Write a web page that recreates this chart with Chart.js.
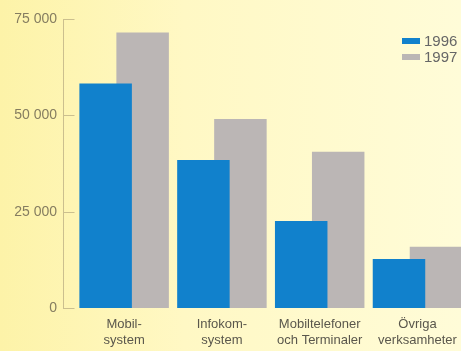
<!DOCTYPE html>
<html>
<head>
<meta charset="utf-8">
<script src="https://cdn.jsdelivr.net/npm/chart.js@4.4.0/dist/chart.umd.min.js"></script>
<style>
html, body { margin: 0; padding: 0; }
body {
    width: 461px; height: 351px; overflow: hidden;
    background: linear-gradient(to right, #fdf3a8 0%, #fff8c4 40%, #fffcd8 100%);
}
#wrap { position: relative; width: 461px; height: 351px; }
</style>
</head>
<body>
<div id="wrap"><canvas id="salesChart"></canvas></div>
<script>
// Data
var categories = [['Mobil-', 'system'], ['Infokom-', 'system'], ['Mobiltelefoner', 'och Terminaler'], ['Övriga', 'verksamheter']];
var years = ['1996', '1997'];
var values1996 = [58300, 38500, 22700, 12800];
var values1997 = [71500, 49100, 40600, 16000];
var yTicks = [0, 25000, 50000, 75000];

var axisColor = '#cbbf8e';
var font = "'Liberation Sans', Arial, sans-serif";

// legend drawn inside the chart area, top right
var cornerLegend = {
    id: 'cornerLegend',
    afterDraw: function (chart) {
        var ctx = chart.ctx;
        ctx.save();
        ctx.font = '15px ' + font;
        ctx.textBaseline = 'middle';
        chart.data.datasets.forEach(function (ds, i) {
            var y = 41 + i * 16;
            ctx.fillStyle = ds.backgroundColor;
            ctx.fillRect(402, y - 3, 18, 6);
            ctx.fillStyle = '#666';
            ctx.fillText(ds.label, 424, y + 1);
        });
        ctx.restore();
    }
};

function toPoints(arr) {
    return arr.map(function (v, i) { return { x: i, y: v }; });
}

var ctx = document.getElementById('salesChart').getContext('2d');
var salesChart = new Chart(ctx, {
    type: 'bar',
    data: {
        datasets: [{
            label: years[0],
            data: toPoints(values1996),
            backgroundColor: '#1181cc'
        }, {
            label: years[1],
            data: toPoints(values1997),
            backgroundColor: '#bbb6b5'
        }]
    },
    options: {
        responsive: true,
        maintainAspectRatio: false,
        animation: false,
        categoryPercentage: 0.7566,
        barPercentage: 1.419,
        layout: { padding: { top: 19, right: 0, bottom: 0, left: 0 } },
        plugins: {
            legend: { display: false },
            tooltip: { enabled: false }
        },
        scales: {
            x: {
                type: 'linear',
                offset: false,
                min: -0.62,
                max: 3.445,
                grid: { display: false, drawTicks: false, offset: false },
                border: { display: false },
                ticks: {
                    stepSize: 1,
                    includeBounds: false,
                    autoSkip: false,
                    maxRotation: 0,
                    padding: 8,
                    color: '#5a574c',
                    font: { family: font, size: 13, lineHeight: 1.23 },
                    callback: function (v) { return categories[v]; }
                },
                afterFit: function (s) {
                    s.height = 42.5;
                    s.paddingLeft = 0;
                    s.paddingRight = 0;
                }
            },
            y: {
                min: 0,
                max: 75000,
                afterBuildTicks: function (s) {
                    s.ticks = yTicks.map(function (v) { return { value: v }; });
                },
                grid: {
                    drawOnChartArea: false,
                    drawTicks: true,
                    tickLength: -11,
                    color: axisColor
                },
                border: { color: axisColor },
                ticks: {
                    padding: 17.5,
                    color: '#857d60',
                    font: { family: font, size: 14 },
                    callback: function (v) {
                        return v.toString().replace(/\B(?=(\d{3})+(?!\d))/g, ' ');
                    }
                },
                afterFit: function (s) {
                    s.width = 63.5;
                    s.paddingTop = 0;
                    s.paddingBottom = 0;
                }
            }
        }
    },
    plugins: [cornerLegend]
});
</script>
</body>
</html>
